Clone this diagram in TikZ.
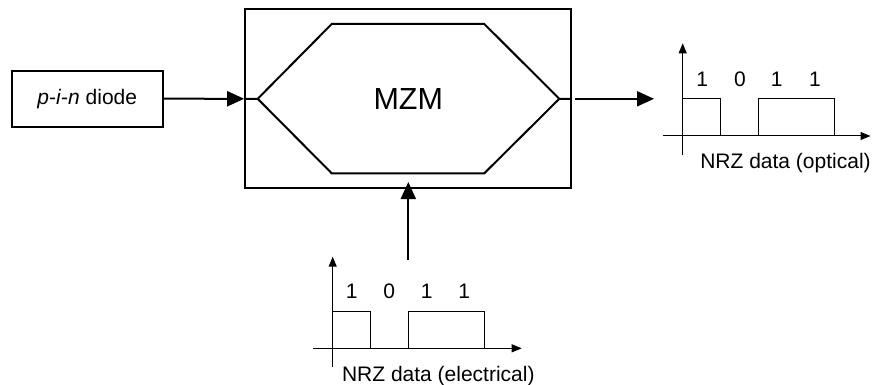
\documentclass[tikz,border=0pt]{standalone}
\usepackage{fontspec}
\setmainfont{Liberation Sans}
\usetikzlibrary{arrows.meta}
\tikzset{
  boxline/.style={draw=black, line width=2pt},
  bigarrow/.style={line width=2pt, -{Triangle[length=17pt,width=15pt]}},
  axisarrow/.style={line width=1pt, -{Triangle[length=10pt,width=8pt]}},
  thinline/.style={line width=1pt},
  txt/.style={font=\fontsize{21}{25}\selectfont, inner sep=0pt},
  bigtxt/.style={font=\fontsize{30.5}{36}\selectfont, inner sep=0pt},
}
\begin{document}
\begin{tikzpicture}[x=1pt,y=-1pt]
\useasboundingbox (0,0) rectangle (875,385);
% p-i-n diode
\node[boxline, minimum width=151pt, minimum height=56pt, inner sep=0pt, txt] (diode) at (87.2,98.7) {\textit{p}-\textit{i}-\textit{n} diode};
% MZM outer box
\node[boxline, minimum width=325.7pt, minimum height=179pt, inner sep=0pt] (mzm) at (408,98.8) {};
\node[bigtxt] (mzmlabel) at (408.3,98.7) {MZM};
% hexagon arms
\coordinate (hl) at (257.7,98.8);
\coordinate (hr) at (559.3,98.8);
\draw[line width=2pt, line join=miter] (mzm.west) -- (hl) -- (331.7,24) -- (484.3,24) -- (hr) -- (mzm.east);
\draw[line width=2pt, line join=miter] (hl) -- (331.7,173.3) -- (484.3,173.3) -- (hr);
% arrows
\draw[bigarrow] (diode.east) -- (mzm.west);
\coordinate (outstart) at ([xshift=3pt]mzm.east);
\coordinate (outend) at (654,98.8);
\draw[bigarrow] (outstart) -- (outend);
\coordinate (instart) at (408.3,260);
\coordinate (inend) at (408.3,182);
\draw[bigarrow] (instart) -- (inend);
% electrical NRZ graph
\begin{scope}
  \coordinate (eo) at (332.7,348.3);
  \coordinate (eyb) at (332.7,366.7);
  \coordinate (eyt) at (332.7,256.7);
  \coordinate (exl) at (313.3,348.3);
  \coordinate (exr) at (521.7,348.3);
  \draw[axisarrow] (eyb) -- (eyt);
  \draw[axisarrow] (exl) -- (exr);
  \draw[thinline] (332.7,311) -- (370.7,311) -- (370.7,348.3);
  \draw[thinline] (408.7,348.3) -- (408.7,311) -- (484.3,311) -- (484.3,348.3);
  \node[txt] (eb1) at (351.7,291) {1};
  \node[txt] (eb2) at (389.3,291) {0};
  \node[txt] (eb3) at (426.7,291) {1};
  \node[txt] (eb4) at (464.3,291) {1};
  \node[txt] (elabel) at (438.3,376.5) {NRZ data (electrical)};
\end{scope}
% optical NRZ graph
\begin{scope}
  \coordinate (oyb) at (682.7,155);
  \coordinate (oyt) at (682.7,43.3);
  \coordinate (oxl) at (663.3,136);
  \coordinate (oxr) at (870.5,136);
  \draw[axisarrow] (oyb) -- (oyt);
  \draw[axisarrow] (oxl) -- (oxr);
  \draw[thinline] (682.7,99) -- (720,99) -- (720,136);
  \draw[thinline] (758.3,136) -- (758.3,99) -- (834.3,99) -- (834.3,136);
  \node[txt] (ob1) at (702.3,79.3) {1};
  \node[txt] (ob2) at (740,79.3) {0};
  \node[txt] (ob3) at (776.7,79.3) {1};
  \node[txt] (ob4) at (815,79.3) {1};
  \node[txt] (olabel) at (785.5,163.3) {NRZ data (optical)};
\end{scope}
\end{tikzpicture}
\end{document}
